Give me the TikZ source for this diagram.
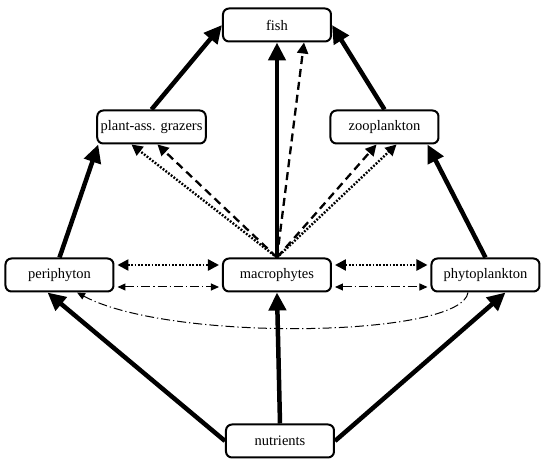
\documentclass[tikz,border=0pt]{standalone}
\usepackage{fontspec}
\setmainfont{Liberation Serif}
\usetikzlibrary{positioning}
\usetikzlibrary{arrows.meta}
\tikzset{
   box/.style={draw, line width=2pt, rounded corners=6pt, minimum width=108pt,
      minimum height=33pt, font=\fontsize{14.5}{17}\selectfont, on grid},
   flow/.style={line width=4.5pt, -{Triangle[length=18pt,width=17pt]}},
   dashflow/.style={line width=2.3pt, dash pattern=on 8pt off 5pt,
      >={Triangle[length=11pt,width=11pt]}},
   dotflow/.style={line width=2.4pt, dash pattern=on 1.8pt off 1.6pt,
      >={Triangle[length=11pt,width=11pt]}},
   dotdash/.style={line width=1pt, dash pattern=on 9pt off 3pt on 1.2pt off 3pt,
      >={Triangle[length=8pt,width=7pt]}},
}

\begin{document}
\begin{tikzpicture}
      \useasboundingbox (-277pt,-193pt) rectangle (273pt,275pt);

      \node[box] (macro) at (0,0) {macrophytes};
      \node[box, above=250pt of macro] (fish) {fish};
      \node[box, above left =148pt and 125.5pt of macro] (graz) {plant-ass. grazers};
      \node[box, above right=148pt and 107.5pt of macro] (zoo) {zooplankton};
      \node[box, left =217.5pt of macro] (peri) {periphyton};
      \node[box, right=208.5pt of macro] (phyto) {phytoplankton};
      \node[box, below right=166pt and 3pt of macro] (nutr) {nutrients};

      \draw[flow] (graz.north) -- (fish.west);
      \draw[flow] (zoo.north) -- (fish.east);
      \draw[flow] (macro.north) -- (fish.south);
      \draw[flow] (peri.north) -- ([xshift=2pt]graz.south west);
      \draw[flow] (phyto.north) -- ([xshift=-12pt]zoo.south east);
      \draw[flow] (nutr.west) -- ([xshift=-12pt]peri.south);
      \draw[flow] (nutr.north) -- (macro.south);
      \draw[flow] (nutr.east) -- ([xshift=20pt]phyto.south);

      \draw[dotflow,->] (macro.north) -- ([xshift=-20pt]graz.south);
      \draw[dashflow,->] (macro.north) -- ([xshift=6pt]graz.south);
      \draw[dashflow,->] (macro.north) -- ([xshift=-8pt]zoo.south);
      \draw[dotflow,->] (macro.north) -- ([xshift=12pt]zoo.south);
      \draw[dashflow,->] (macro.north) -- ([xshift=27pt]fish.south);

      \draw[dotflow,<->,shorten <=3pt,shorten >=3pt] ([yshift=10pt]peri.east) -- ([yshift=10pt]macro.west);
      \draw[dotflow,<->,shorten <=3pt,shorten >=3pt] ([yshift=10pt]macro.east) -- ([yshift=10pt]phyto.west);
      \draw[dotdash,<->,shorten <=3pt,shorten >=3pt] ([yshift=-12pt]peri.east) -- ([yshift=-12pt]macro.west);
      \draw[dotdash,<->,shorten <=3pt,shorten >=3pt] ([yshift=-12pt]macro.east) -- ([yshift=-12pt]phyto.west);
      \draw[dotdash,->] ([xshift=-17.5pt]phyto.south) .. controls +(-6pt,-45pt) and +(93pt,-50pt) .. ([xshift=17.5pt]peri.south);
\end{tikzpicture}
\end{document}
